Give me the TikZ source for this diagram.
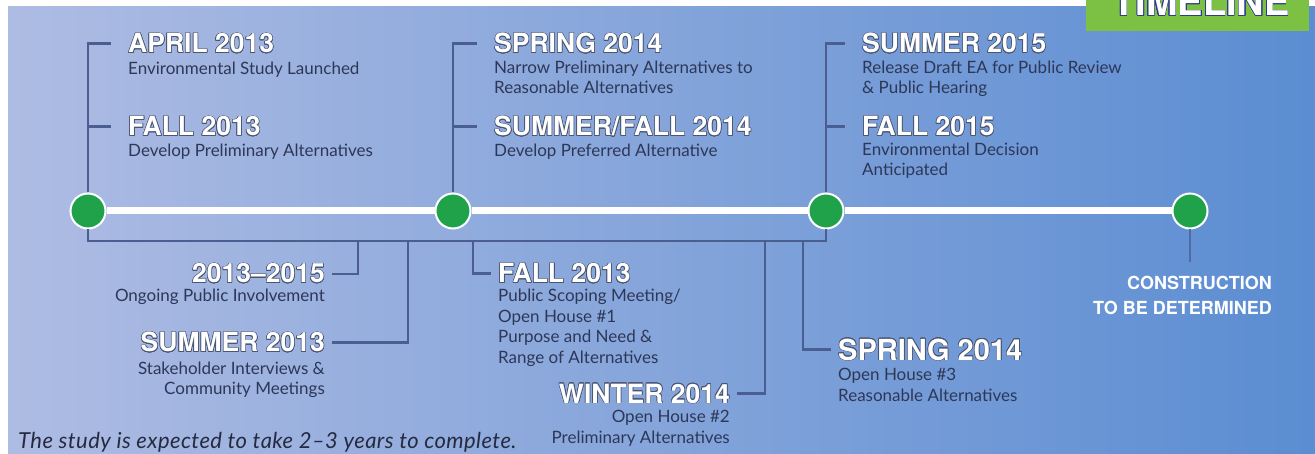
\documentclass[tikz,border=0pt]{standalone}
\usepackage{fontspec}
\setmainfont{Lato}
\newfontfamily\hdfont{TeX Gyre Heros}[Ligatures=TeX]
\newfontfamily\cnfont{TeX Gyre Heros}
\usepackage{contour}
\contourlength{0.6pt}
\usetikzlibrary{positioning}

\definecolor{bgleft}{HTML}{AEBCE3}
\definecolor{bgright}{HTML}{5B8DD2}
\definecolor{brkblue}{HTML}{4B5E92}
\definecolor{stemblue}{HTML}{4F6BA5}
\definecolor{dotgreen}{HTML}{1FA24A}
\definecolor{tabgreen}{HTML}{7CC143}
\definecolor{dstext}{HTML}{2D3758}
\definecolor{hdline}{HTML}{4A5572}
\definecolor{fntext}{HTML}{262A40}
\definecolor{tabline}{HTML}{2E3C8C}

\newcommand{\hdtxt}[1]{\contour{hdline}{#1}}

\begin{document}
\begin{tikzpicture}[x=1pt,y=-1pt,
  dot/.style={circle,fill=dotgreen,draw=white,line width=2pt,minimum size=35pt,inner sep=0pt},
  track/.style={draw=white,line width=7pt},
  brk/.style={draw=brkblue,line width=2.6pt},
  hd/.style={inner sep=0pt,text=white,font=\hdfont\bfseries\fontsize{26.5}{30}\selectfont},
  ds/.style={inner sep=0pt,text=dstext,font=\fontsize{17}{20.5}\selectfont}]
  \useasboundingbox (0,0) rectangle (1315,454);
  \fill[white] (0,0) rectangle (1315,454);
  \shade[left color=bgleft,right color=bgright] (8,7) rectangle (1315,454);

  % title tab
  \node[fill=tabgreen,anchor=north west,minimum width=223pt,minimum height=31pt,inner sep=0pt] (tab) at (1086,0) {};
  \node[anchor=base,inner sep=0pt,text=white,font=\hdfont\bfseries\fontsize{38}{40}\selectfont] (ttl) at (1201,16)
    {\contour{tabline}{TIMELINE}};

  % milestones
  \foreach \n/\x in {m1/88,m2/453,m3/826,m4/1190}
    \node[dot] (\n) at (\x,211) {};
  \draw[track] (m1) -- (m2) -- (m3) -- (m4);

  % upper events (descriptions hang on their last baseline)
  \node[hd,anchor=base west] (ap) at (128,53) {\hdtxt{APRIL 2013}};
  \node[ds,anchor=base west,align=left] (apd) at ([yshift=-22pt]ap.base west) {Environmental Study Launched};
  \node[hd,anchor=base west] (fa) at (128,136) {\hdtxt{FALL 2013}};
  \node[ds,anchor=base west,align=left] (fad) at ([yshift=-21pt]fa.base west) {Develop Preliminary Alternatives};
  \node[hd,anchor=base west] (sp) at (494,53) {\hdtxt{SPRING 2014}};
  \node[ds,anchor=base west,align=left] (spd) at ([yshift=-41pt]sp.base west) {Narrow Preliminary Alternatives to\\Reasonable Alternatives};
  \node[hd,anchor=base west] (sf) at (494,136) {\hdtxt{SUMMER/FALL 2014}};
  \node[ds,anchor=base west,align=left] (sfd) at ([yshift=-21pt]sf.base west) {Develop Preferred Alternative};
  \node[hd,anchor=base west] (su) at (862,53) {\hdtxt{SUMMER 2015}};
  \node[ds,anchor=base west,align=left] (sud) at ([yshift=-41pt]su.base west) {Release Draft EA for Public Review\\\& Public Hearing};
  \node[hd,anchor=base west] (fb) at (862,136) {\hdtxt{FALL 2015}};
  \node[ds,anchor=base west,align=left] (fbd) at ([yshift=-40pt]fb.base west) {Environmental Decision\\Anticipated};

  % lower events
  \node[hd,anchor=base east] (pi) at (325,283) {\hdtxt{2013--2015}};
  \node[ds,anchor=base east,align=right] (pid) at ([yshift=-19pt]pi.base east) {Ongoing Public Involvement};
  \node[hd,anchor=base east] (sm) at (325,352) {\hdtxt{SUMMER 2013}};
  \node[ds,anchor=base east,align=right] (smd) at ([yshift=-43pt]sm.base east) {Stakeholder Interviews \&\\Community Meetings};
  \node[hd,anchor=base west] (fs) at (498,283) {\hdtxt{FALL 2013}};
  \node[ds,anchor=base west,align=left] (fsd) at ([yshift=-80pt]fs.base west) {Public Scoping Meeting/\\Open House \#1\\Purpose and Need \&\\Range of Alternatives};
  \node[hd,anchor=base east] (wi) at (730,403) {\hdtxt{WINTER 2014}};
  \node[ds,anchor=base east,align=right] (wid) at ([yshift=-40pt]wi.base east) {Open House \#2\\Preliminary Alternatives};
  \node[hd,anchor=base west,font=\hdfont\bfseries\fontsize{29}{32}\selectfont] (sb) at (838,360) {\hdtxt{SPRING 2014}};
  \node[ds,anchor=base west,align=left] (sbd) at ([yshift=-41pt]sb.base west) {Open House \#3\\Reasonable Alternatives};

  % construction
  \node[anchor=base east,align=right,inner sep=0pt,text=white,font=\cnfont\bfseries\fontsize{18}{25}\selectfont] (cn) at (1272,315)
    {CONSTRUCTION\\TO BE DETERMINED};
  \coordinate (m4e) at (1190,262);
  \draw[draw=stemblue,line width=2.4pt] (m4) -- (m4e);

  % brackets above
  \foreach \m/\a/\b in {m1/ap/fa,m2/sp/sf,m3/su/fb}{
    \draw[brk,shorten >=17pt] (\m) |- (\a.west);
    \draw[brk,shorten >=17pt] (\m) |- (\b.west);
  }

  % brackets below
  \coordinate (b3) at (826,241);
  \draw[brk] (m1) |- (b3) -- (m3);
  \foreach \i/\x/\h in {1/358/pi.east,2/408/sm.east,3/473/fs.west,4/765/wi.east,5/803/sb.west}{
    \coordinate (dr\i) at (\x,241);
    \draw[brk,shorten >=7pt] (dr\i) |- (\h);
  }

  \node[anchor=base west,inner sep=0pt,text=fntext,font=\itshape\fontsize{22}{25}\selectfont\addfontfeatures{LetterSpace=2}] (note) at (18,448)
    {The study is expected to take 2–3 years to complete.};
\end{tikzpicture}
\end{document}
